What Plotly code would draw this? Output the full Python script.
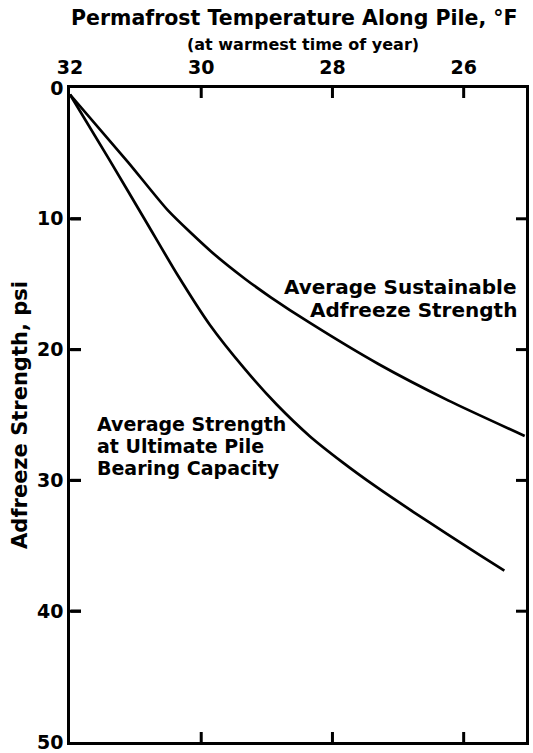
import plotly.graph_objects as go

# Data (temperature °F, adfreeze strength psi)
sust_temp = [32.0, 31.11, 30.50, 29.85, 29.33, 28.94, 28.33, 27.30, 26.23, 25.07]
sust_strength = [0.5, 5.7, 9.4, 12.5, 14.6, 16.0, 18.0, 21.1, 23.9, 26.6]

ult_temp = [32.0, 31.41, 30.82, 30.36, 29.87, 29.35, 28.85, 28.35, 27.85, 27.33, 26.77, 26.25, 25.76, 25.38]
ult_strength = [0.5, 5.4, 10.4, 14.3, 18.1, 21.4, 24.2, 26.6, 28.6, 30.5, 32.4, 34.1, 35.7, 36.9]

x_ticks = [32, 30, 28, 26]
y_ticks = [0, 10, 20, 30, 40, 50]

FONT = "DejaVu Sans"
W, H = 533, 753
L, R, T, B = 70, 7, 88, 11
pw = W - L - R
ph = H - T - B
TICK = 11
X_RANGE = [32, 25.05]

def py(pix):
    return (H - B - pix) / ph

def px(pix):
    return (pix - L) / pw

fig = go.Figure()
line = dict(color="black", width=2.7, shape="spline", smoothing=0.6)
fig.add_trace(go.Scatter(x=sust_temp, y=sust_strength, mode="lines", line=line,
                         hoverinfo="skip", showlegend=False))
fig.add_trace(go.Scatter(x=ult_temp, y=ult_strength, mode="lines", line=line,
                         hoverinfo="skip", showlegend=False))

# left-side inside ticks as a line trace built from the y tick values
deg_per_px = (X_RANGE[0] - X_RANGE[1]) / pw
lt_x, lt_y = [], []
for v in y_ticks[1:-1]:
    lt_x += [X_RANGE[0], X_RANGE[0] - TICK * deg_per_px, None]
    lt_y += [v, v, None]
fig.add_trace(go.Scatter(x=lt_x, y=lt_y, mode="lines",
                         line=dict(color="black", width=3),
                         hoverinfo="skip", showlegend=False, cliponaxis=False))

axis_common = dict(
    ticks="", automargin=False,
    showline=True, linecolor="black", linewidth=2.7, mirror=True,
    showgrid=False, zeroline=False,
    tickfont=dict(family=FONT, size=19, weight="bold"),
)

# inside tick marks on all sides, placed at the tick values
tick_line = dict(color="black", width=3)
shapes = []
for v in x_ticks:
    if v == 32:
        continue
    shapes.append(dict(type="line", xref="x", yref="paper", x0=v, x1=v,
                       y0=1, y1=1 - 10 / ph, line=tick_line, layer="above"))
    shapes.append(dict(type="line", xref="x", yref="paper", x0=v, x1=v,
                       y0=0, y1=10 / ph, line=tick_line, layer="above"))
for v in y_ticks[1:-1]:
    shapes.append(dict(type="line", xref="paper", yref="y", x0=1, x1=1 - 10 / pw,
                       y0=v, y1=v, line=tick_line, layer="above"))
    shapes.append(dict(type="line", xref="paper", yref="y", x0=0.002, x1=TICK / pw,
                       y0=v, y1=v, line=tick_line, layer="above"))

def note(text, xp, yp, anchor, size):
    return dict(text=text, xref="paper", yref="paper", x=px(xp), y=py(yp),
                showarrow=False, xanchor=anchor, yanchor="middle",
                font=dict(family=FONT, size=size, weight="bold"))

fig.update_layout(
    width=W, height=H,
    margin=dict(l=L, r=R, t=T, b=B),
    paper_bgcolor="white", plot_bgcolor="white",
    font=dict(family=FONT, color="black", size=17, weight="bold"),
    xaxis=dict(range=X_RANGE, side="top", tickvals=x_ticks,
               ticklabelstandoff=4, **axis_common),
    yaxis=dict(
        range=[50, 0], tickvals=y_ticks, **axis_common,
        title=dict(text="Adfreeze Strength, psi", standoff=4,
                   font=dict(family=FONT, size=21, weight="bold")),
    ),
    shapes=shapes,
    annotations=[
        note("Permafrost Temperature Along Pile, °F", 294, 18, "center", 20.5),
        note("(at warmest time of year)", 303, 44, "center", 16),
        note("Average Sustainable", 519, 287, "right", 20),
        note("Adfreeze Strength", 519, 310, "right", 20),
        note("Average Strength", 95, 424, "left", 19),
        note("at Ultimate Pile", 95, 446, "left", 19),
        note("Bearing Capacity", 95, 468, "left", 19),
    ],
)

fig.write_html(
    "out.html",
    config={"displayModeBar": False, "staticPlot": True},
    post_script="document.body.style.margin='0';document.body.style.overflow='hidden';",
)
